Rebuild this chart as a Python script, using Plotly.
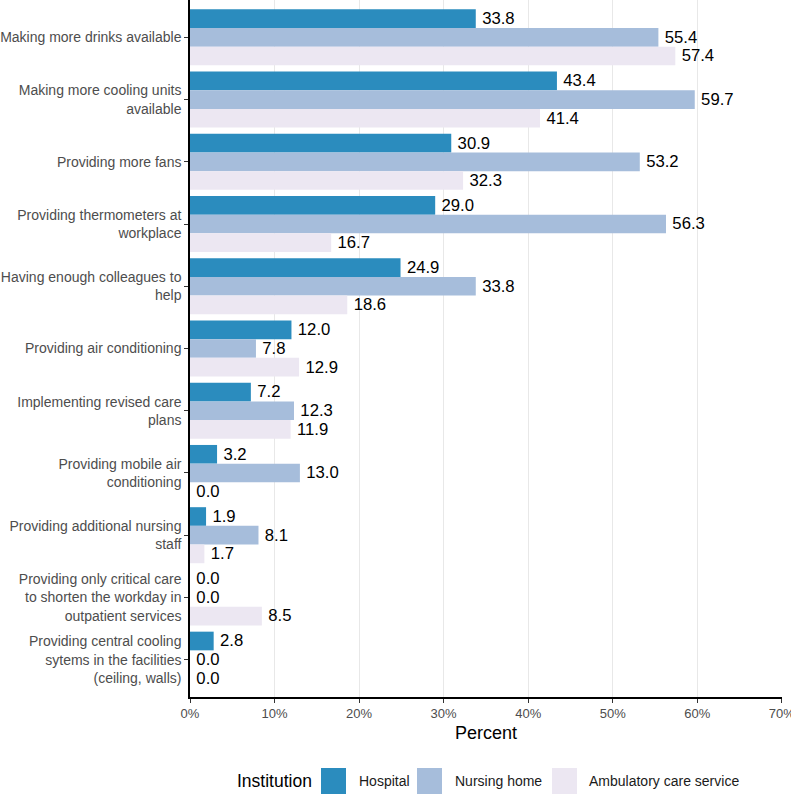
import plotly.graph_objects as go

categories = [
    "Making more drinks available",
    "Making more cooling units<br>available",
    "Providing more fans",
    "Providing thermometers at<br>workplace",
    "Having enough colleagues to<br>help",
    "Providing air conditioning",
    "Implementing revised care<br>plans",
    "Providing mobile air<br>conditioning",
    "Providing additional nursing<br>staff",
    "Providing only critical care<br>to shorten the workday in<br>outpatient services",
    "Providing central cooling<br>sytems in the facilities<br>(ceiling, walls)",
]
hospital = [33.8, 43.4, 30.9, 29.0, 24.9, 12.0, 7.2, 3.2, 1.9, 0.0, 2.8]
nursing_home = [55.4, 59.7, 53.2, 56.3, 33.8, 7.8, 12.3, 13.0, 8.1, 0.0, 0.0]
ambulatory = [57.4, 41.4, 32.3, 16.7, 18.6, 12.9, 11.9, 0.0, 1.7, 8.5, 0.0]
series_names = ["Hospital", "Nursing home", "Ambulatory care service"]
colors = ["#2b8cbe", "#a6bddb", "#ece7f2"]
x_ticks = [0, 10, 20, 30, 40, 50, 60, 70]
x_tick_labels = ["0%", "10%", "20%", "30%", "40%", "50%", "60%", "70%"]

W, H = 791, 794
ML, MR, MT, MB = 190, 9, 0, 97
PW, PH = W - ML - MR, H - MT - MB
FONT = "Liberation Sans, Arial, sans-serif"


def px_x(p):
    return (p - ML) / PW


def px_y(p):
    return (H - MB - p) / PH


fig = go.Figure()
for name, vals, col in zip(series_names, [hospital, nursing_home, ambulatory], colors):
    fig.add_trace(go.Bar(
        name=name, y=categories, x=vals, orientation="h",
        marker=dict(color=col, line=dict(width=0)),
        text=[f"\u2009{v:.1f}" for v in vals], textposition="outside",
        textfont=dict(size=17, color="black", family=FONT),
        cliponaxis=False, showlegend=False,
    ))

# manual legend (large square keys, like the reference)
legend_swatch_x = [321, 417, 552]
legend_text_x = [357, 453, 587]
shapes = []
annotations = [dict(
    text="Institution", x=px_x(235), y=px_y(781), xref="paper", yref="paper",
    xanchor="left", yanchor="middle", showarrow=False,
    font=dict(size=17.5, color="black", family=FONT),
)]
for name, col, sx, tx in zip(series_names, colors, legend_swatch_x, legend_text_x):
    shapes.append(dict(
        type="rect", xref="paper", yref="paper",
        x0=px_x(sx), x1=px_x(sx + 25), y0=px_y(768), y1=px_y(794),
        fillcolor=col, line=dict(width=0), layer="above",
    ))
    annotations.append(dict(
        text=name, x=px_x(tx), y=px_y(781), xref="paper", yref="paper",
        xanchor="left", yanchor="middle", showarrow=False,
        font=dict(size=14, color="#1a1a1a", family=FONT),
    ))

fig.update_layout(
    barmode="group", bargap=0.1, bargroupgap=0,
    width=W, height=H,
    margin=dict(l=ML, r=MR, t=MT, b=MB, autoexpand=False),
    plot_bgcolor="white", paper_bgcolor="white",
    font=dict(family=FONT, size=14, color="#4d4d4d"),
    showlegend=False,
    shapes=shapes, annotations=annotations,
    xaxis=dict(
        range=[0, 70.02], tickvals=x_ticks, ticktext=x_tick_labels,
        showgrid=True, gridcolor="#e8e8e8", gridwidth=1,
        showline=True, linecolor="black", linewidth=1.5,
        ticks="outside", ticklen=4, tickcolor="#333333",
        tickfont=dict(size=13, color="#4d4d4d"),
        ticklabeloverflow="allow",
        title=dict(text="Percent", font=dict(size=18, color="black"), standoff=6),
        zeroline=False, automargin=False,
    ),
    yaxis=dict(
        categoryorder="array", categoryarray=categories,
        range=[10.6, -0.6], autorange=False,
        showgrid=False, showline=True, linecolor="black", linewidth=1.5,
        ticks="outside", ticklen=4, tickcolor="#333333",
        tickfont=dict(size=14, color="#4d4d4d"),
        zeroline=False, automargin=False,
    ),
)

fig.write_html(
    "out.html",
    config={"displayModeBar": False},
    post_script="document.body.style.margin='0';document.body.style.overflow='hidden';",
)
